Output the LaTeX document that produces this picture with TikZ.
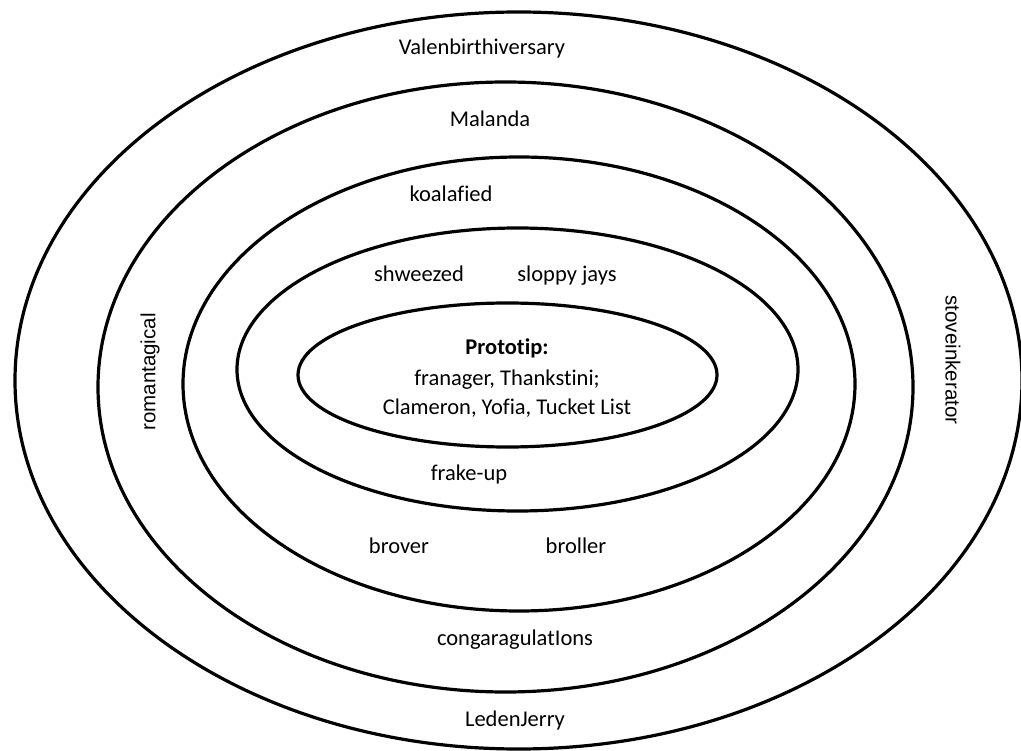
\documentclass[tikz,border=0pt]{standalone}
\usepackage{fontspec}
\setmainfont{Carlito}[Ligatures=NoCommon]
\newfontfamily\sidefont{Liberation Sans}
\usepackage{tikz}

\begin{document}
\begin{tikzpicture}[x=1pt,y=-1pt]
\tikzstyle{every node}=[font=\fontsize{22.5}{27}\selectfont, inner sep=0pt]
\tikzstyle{ring}=[line width=3.2pt]
\tikzstyle{word}=[text height=15pt, text depth=5pt]
\tikzstyle{sidelabel}=[font=\sidefont\fontsize{20.5}{24}\selectfont]

\useasboundingbox (0,0) rectangle (1021,751);

\coordinate (OuterCenter) at (518.5,380.5);
\coordinate (SecondCenter) at (505.5,387);
\coordinate (ThirdCenter) at (519,384);
\coordinate (FourthCenter) at (517.5,369.5);
\coordinate (InnerCenter) at (507.5,375);

\draw[ring] (OuterCenter) ellipse [x radius=503.5pt, y radius=368.5pt];
\draw[ring] (SecondCenter) ellipse [x radius=407.5pt, y radius=305pt];
\draw[ring] (ThirdCenter) ellipse [x radius=336pt, y radius=227pt];
\draw[ring] (FourthCenter) ellipse [x radius=280.5pt, y radius=141.5pt];
\draw[ring] (InnerCenter) ellipse [x radius=209.5pt, y radius=72pt];

\node[word] (Valen) at (482,50) {Valenbirthiversary};
\node[word] (Malanda) at (490,122) {Malanda};
\node[word] (Koala) at (451,197) {koalafied};
\node[word] (Shweezed) at (419,277) {shweezed};
\node[word] (Sloppy) at (567,277) {sloppy jays};
\node[align=center] (Proto) at (507,378) {\textbf{Prototip:}\\[4pt]franager, Thankstini;\\[2pt]Clameron, Yofia, Tucket List};
\node[word] (Frake) at (469,476) {frake-up};
\node[word] (Brover) at (399,548) {brover};
\node[word] (Broller) at (576,548) {broller};
\node[word] (Congara) at (515,640) {congaragulatIons};
\node[word] (Leden) at (515,721) {LedenJerry};

\node[sidelabel, rotate=90] (Roman) at (150,372) {romantagical};
\node[sidelabel, rotate=-90] (Stove) at (953,360) {stoveinkerator};
\end{tikzpicture}
\end{document}
